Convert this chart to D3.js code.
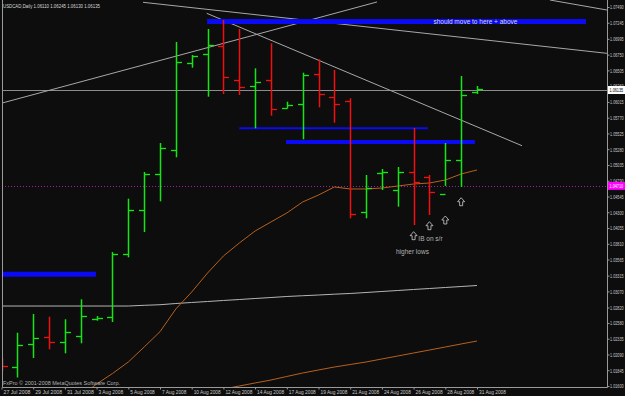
<!DOCTYPE html>
<html>
<head>
<meta charset="utf-8">
<script src="https://cdn.jsdelivr.net/npm/d3@7"></script>
<style>
  body { margin: 0; background: #0d0d0d; }
  text { font-family: "Liberation Sans", Arial, sans-serif; }
</style>
</head>
<body>
<div id="chart"></div>
<script>
// USDCAD daily bars, 27 Jul - 31 Aug 2008 (one value per bar)
var opens  = [1.01989, 1.01900, 1.02248, 1.02357, 1.02284, 1.02377, 1.02646, 1.02668, 1.03647, 1.04335, 1.04890,
              1.05268, 1.06615, 1.06755, 1.06889, 1.06351, 1.06258, 1.06356, 1.05916, 1.05978, 1.06444, 1.06096,
              1.06029, 1.04309, 1.04915, 1.04646, 1.04926, 1.04848, 1.04579, 1.05112, 1.06169];
var highs  = [1.02035, 1.02428, 1.02719, 1.02677, 1.02637, 1.02947, 1.02688, 1.03682, 1.04511, 1.04926, 1.05376,
              1.06946, 1.06744, 1.07148, 1.07288, 1.07148, 1.06537, 1.06926, 1.06018, 1.06469, 1.06677, 1.06511,
              1.06071, 1.04879, 1.04972, 1.05003, 1.05610, 1.04879, 1.05376, 1.06418, 1.06262];
var lows   = [1.01833, 1.01732, 1.02035, 1.02170, 1.02108, 1.02264, 1.02615, 1.02595, 1.03600, 1.03993, 1.04470,
              1.05154, 1.06547, 1.06096, 1.06138, 1.06122, 1.05605, 1.05801, 1.05913, 1.05434, 1.05931, 1.05692,
              1.04206, 1.04206, 1.04646, 1.04387, 1.04102, 1.04257, 1.04709, 1.04693, 1.06138];
var closes = [1.01915, 1.02233, 1.02351, 1.02284, 1.02439, 1.02688, 1.02652, 1.03647, 1.04335, 1.04890, 1.05299,
              1.06640, 1.06733, 1.06900, 1.06397, 1.06247, 1.06329, 1.05900, 1.05967, 1.06433, 1.06133, 1.05978,
              1.04273, 1.04672, 1.04926, 1.04926, 1.04770, 1.04610, 1.05112, 1.06122, 1.06216];

// moving averages: [bar index, value]
var maFast = [[5,1.01445],[6,1.01631],[7,1.01794],[8,1.01973],[9,1.02206],[10,1.02444],[11,1.02797],[12,1.03061],
              [13,1.03356],[14,1.03620],[15,1.03822],[16,1.04009],[17,1.04149],[18,1.04289],[19,1.04460],[20,1.04568],
              [21,1.04693],[22,1.04662],[23,1.04662],[24,1.04677],[25,1.04708],[26,1.04739],[27,1.04755],[28,1.04801],
              [29,1.04895],[30,1.04957]];
var maSlow = [[14,1.01553],[15,1.01600],[16,1.01647],[17,1.01693],[18,1.01748],[19,1.01802],[20,1.01849],[21,1.01895],
              [22,1.01934],[23,1.01973],[24,1.02020],[25,1.02066],[26,1.02113],[27,1.02159],[28,1.02206],[29,1.02253],
              [30,1.02299]];
var maGrey = [[0,1.02843],[8,1.02843],[9,1.02854],[10,1.02863],[11,1.02882],[12,1.02898],[13,1.02913],[14,1.02929],
              [15,1.02944],[16,1.02960],[17,1.02975],[18,1.02991],[19,1.03003],[20,1.03014],[21,1.03027],[22,1.03038],
              [23,1.03053],[24,1.03069],[25,1.03084],[26,1.03100],[27,1.03115],[28,1.03131],[29,1.03146],[30,1.03162]];

// trendlines drawn on the chart: start / end as [bar index, price]
var trendFrom = [[0.09,1.06001],[12.95,1.07392],[8.93,1.07563],[34.6,1.07599]];
var trendTo   = [[23.69,1.07568],[32.84,1.05334],[38.2,1.06770],[38.2,1.07443]];

// thick blue levels
var levelPrices = [1.07263, 1.05606, 1.05392, 1.03336];
var levelFrom   = [12.97, 15.0, 17.95, 0.09];
var levelTo     = [36.88, 26.9, 29.87, 5.96];

// arrows + notes
var arrowBars   = [26, 27, 28, 29];
var arrowPrices = [1.03936, 1.04091, 1.04180, 1.04464];
var noteText    = ["should move to here + above", "IB on s/r", "higher lows"];
var noteBars    = [29.9, 26.3, 24.89];
var notePrices  = [1.07257, 1.03884, 1.03693];

// axis labels
var priceTicks = [1.07490, 1.07245, 1.06995, 1.06750, 1.06505, 1.06260, 1.06015, 1.05770, 1.05525, 1.05280,
                  1.05035, 1.04790, 1.04545, 1.04300, 1.04055, 1.03810, 1.03565, 1.03315, 1.03070, 1.02820,
                  1.02580, 1.02335, 1.02090, 1.01845, 1.01600];
var labelBars  = [0, 2, 4, 6, 8, 10, 12, 14, 16, 18, 20, 22, 24, 26, 28, 30];
var dateLabels = ["27 Jul 2008", "29 Jul 2008", "31 Jul 2008", "3 Aug 2008", "5 Aug 2008", "7 Aug 2008",
                  "10 Aug 2008", "12 Aug 2008", "14 Aug 2008", "17 Aug 2008", "19 Aug 2008", "21 Aug 2008",
                  "24 Aug 2008", "26 Aug 2008", "28 Aug 2008", "31 Aug 2008"];
var bidPrice = 1.06200, bidText = "1.06135";
var askPrice = 1.04710;
var header = "USDCAD,Daily  1.06110 1.06245 1.06130 1.06135";
var copyright = "FxPro \u00a9 2001-2008 MetaQuotes Software Corp.";

var width = 625, height = 396,
    plotLeft = 2, plotRight = 607, plotBottom = 387;
var squeeze = 0.68;   // narrow the price labels like the terminal font

var x = d3.scaleLinear().domain([0, 30]).range([1.5, 477]);
var y = d3.scaleLinear().domain([1.016, 1.0749]).range([386, 7]);

var svg = d3.select("#chart").append("svg")
    .attr("width", width)
    .attr("height", height)
    .style("display", "block");

svg.append("rect").attr("width", width).attr("height", height).attr("fill", "#0d0d0d");

svg.append("clipPath").attr("id", "plot")
  .append("rect")
    .attr("x", plotLeft).attr("y", 0)
    .attr("width", plotRight - plotLeft).attr("height", plotBottom);

var plot = svg.append("g").attr("clip-path", "url(#plot)");

function px(v) { return Math.round(v) + 0.5; }

// horizontal price lines
plot.append("line")
    .attr("x1", plotLeft).attr("x2", plotRight)
    .attr("y1", px(y(bidPrice))).attr("y2", px(y(bidPrice)))
    .attr("stroke", "#8c8c8c").attr("stroke-width", 1);
plot.append("line")
    .attr("x1", plotLeft).attr("x2", plotRight)
    .attr("y1", px(y(askPrice))).attr("y2", px(y(askPrice)))
    .attr("stroke", "#a020a0").attr("stroke-width", 1).attr("stroke-dasharray", "1,2");

// moving averages
var maLine = d3.line().x(function(d) { return x(d[0]); }).y(function(d) { return y(d[1]); });
plot.append("path").datum(maGrey).attr("d", maLine)
    .attr("fill", "none").attr("stroke", "#b4b4b4").attr("stroke-width", 1);
[maFast, maSlow].forEach(function(ma) {
  plot.append("path").datum(ma).attr("d", maLine)
      .attr("fill", "none").attr("stroke", "#b8601c").attr("stroke-width", 1);
});

// trendlines
plot.selectAll(".trend")
    .data(trendFrom)
  .enter().append("line")
    .attr("class", "trend")
    .attr("x1", function(d) { return x(d[0]); })
    .attr("y1", function(d) { return y(d[1]); })
    .attr("x2", function(d, i) { return x(trendTo[i][0]); })
    .attr("y2", function(d, i) { return y(trendTo[i][1]); })
    .attr("stroke", "#a8a8a8").attr("stroke-width", 1);

// blue levels
var levelWidths = [5, 2, 4, 5];
plot.selectAll(".level")
    .data(levelPrices)
  .enter().append("line")
    .attr("class", "level")
    .attr("x1", function(d, i) { return x(levelFrom[i]); })
    .attr("x2", function(d, i) { return x(levelTo[i]); })
    .attr("y1", function(d) { return y(d); })
    .attr("y2", function(d) { return y(d); })
    .attr("stroke", "#0a0af5")
    .attr("stroke-width", function(d, i) { return levelWidths[i]; });

// OHLC bars
var bars = plot.selectAll(".bar")
    .data(opens)
  .enter().append("g")
    .attr("class", "bar")
    .attr("stroke", function(d, i) { return closes[i] >= d ? "#14e614" : "#f01010"; });
bars.append("line")
    .attr("x1", function(d, i) { return px(x(i)); })
    .attr("x2", function(d, i) { return px(x(i)); })
    .attr("y1", function(d, i) { return y(highs[i]); })
    .attr("y2", function(d, i) { return y(lows[i]); })
    .attr("stroke-width", 1.5);
bars.append("line")
    .attr("x1", function(d, i) { return px(x(i)) - 5.5; })
    .attr("x2", function(d, i) { return px(x(i)); })
    .attr("y1", function(d) { return px(y(d)); })
    .attr("y2", function(d) { return px(y(d)); })
    .attr("stroke-width", 1.3);
bars.append("line")
    .attr("x1", function(d, i) { return px(x(i)); })
    .attr("x2", function(d, i) { return px(x(i)) + 5.5; })
    .attr("y1", function(d, i) { return px(y(closes[i])); })
    .attr("y2", function(d, i) { return px(y(closes[i])); })
    .attr("stroke-width", 1.3);

// up arrows
plot.selectAll(".arrow")
    .data(arrowPrices)
  .enter().append("path")
    .attr("class", "arrow")
    .attr("transform", function(d, i) { return "translate(" + x(arrowBars[i]) + "," + y(d) + ")"; })
    .attr("d", "M0,-4L3.5,0L1.5,0L1.5,4L-1.5,4L-1.5,0L-3.5,0Z")
    .attr("fill", "#0d0d0d").attr("stroke", "#d0d0d0").attr("stroke-width", 0.8);

// notes
plot.selectAll(".note")
    .data(noteText)
  .enter().append("text")
    .attr("class", "note")
    .attr("x", function(d, i) { return x(noteBars[i]); })
    .attr("y", function(d, i) { return y(notePrices[i]); })
    .attr("dy", "0.35em")
    .attr("text-anchor", function(d, i) { return i === 0 ? "middle" : "start"; })
    .attr("fill", function(d, i) { return i === 0 ? "#d8d8d8" : "#b4b4b4"; })
    .attr("font-size", 6.5)
    .text(function(d) { return d; });

// frame
svg.append("path")
    .attr("d", "M" + (plotLeft + 0.5) + ",0V" + (plotBottom + 0.5) + "H" + (plotRight + 0.5) + "V0")
    .attr("fill", "none").attr("stroke", "#9a9a9a").attr("stroke-width", 1);

// price axis
var yAxis = svg.append("g")
    .attr("transform", "translate(" + (plotRight + 0.5) + ",0)")
    .call(d3.axisRight(y).tickValues(priceTicks).tickSize(2).tickFormat(d3.format(".5f")));
yAxis.select(".domain").remove();
yAxis.selectAll("line").attr("stroke", "#9a9a9a");
yAxis.selectAll("text")
    .attr("x", 2.5 / squeeze)
    .attr("transform", "scale(" + squeeze + ",1)")
    .attr("fill", "#c8c8c8").attr("font-size", 5.6)
    .attr("font-family", "Liberation Sans, Arial, sans-serif");

// current price boxes
function priceBox(p, label, bg, fg) {
  var g = svg.append("g").attr("transform", "translate(" + (plotRight + 1) + "," + y(p) + ")");
  g.append("rect").attr("x", 0).attr("y", -4).attr("width", 17).attr("height", 8).attr("fill", bg);
  g.append("text").attr("x", 1.5 / squeeze).attr("dy", "0.35em")
      .attr("transform", "scale(" + squeeze + ",1)")
      .attr("fill", fg).attr("font-size", 5.6).text(label);
}
priceBox(bidPrice, bidText, "#ffffff", "#000000");
priceBox(askPrice, d3.format(".5f")(askPrice), "#ff00ff", "#ffffff");

// date axis
var xAxis = svg.append("g")
    .attr("transform", "translate(0," + (plotBottom + 0.5) + ")")
    .call(d3.axisBottom(x).tickValues(labelBars).tickSize(2).tickPadding(0.5)
      .tickFormat(function(d, i) { return dateLabels[i]; }));
xAxis.select(".domain").remove();
xAxis.selectAll("line").attr("stroke", "#9a9a9a");
xAxis.selectAll("text")
    .attr("text-anchor", "start").attr("dx", 1.5)
    .attr("fill", "#c8c8c8").attr("font-size", 5.6)
    .attr("font-family", "Liberation Sans, Arial, sans-serif")
    .attr("textLength", function(d, i) { return dateLabels[i].length * 2.45; })
    .attr("lengthAdjust", "spacingAndGlyphs");

// header + copyright
svg.append("text").attr("x", 3).attr("y", 8)
    .attr("fill", "#d8d8d8").attr("font-size", 6)
    .attr("textLength", 97).attr("lengthAdjust", "spacingAndGlyphs").text(header);
svg.append("text").attr("x", 3).attr("y", 385)
    .attr("fill", "#b4b4b4").attr("font-size", 5.6)
    .attr("textLength", 117).attr("lengthAdjust", "spacingAndGlyphs").text(copyright);
</script>
</body>
</html>
